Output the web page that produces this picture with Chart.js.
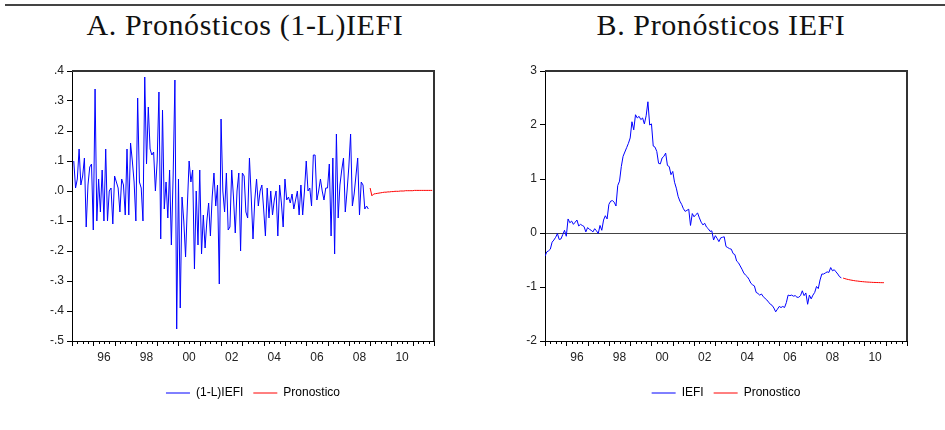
<!DOCTYPE html>
<html lang="es">
<head>
  <meta charset="UTF-8" />
  <title>Pronósticos IEFI</title>
  <script src="https://cdn.jsdelivr.net/npm/chart.js"></script>
  <style>
    body { margin: 0; width: 945px; height: 430px; background: #fff; position: relative; overflow: hidden; }
    .raya { position: absolute; left: 5px; right: 0; top: 4px; border-top: 2px solid #444; }
    .titulo { position: absolute; top: 10px; font-family: "Liberation Serif", "Times New Roman", serif; font-size: 30px; line-height: 30px; letter-spacing: 0.6px; color: #111; white-space: nowrap; transform: translateX(-50%); }
    .panel { position: absolute; top: 60px; }
  </style>
</head>
<body>
  <div class="raya"></div>
  <div class="titulo" style="left:245px">A. Pronósticos (1-L)IEFI</div>
  <div class="titulo" style="left:721px">B. Pronósticos IEFI</div>
  <canvas class="panel" id="graficoA" width="472" height="370" style="left:0"></canvas>
  <canvas class="panel" id="graficoB" width="473" height="370" style="left:472px"></canvas>
  <script>
    // meses contados desde enero de 1995 (mes 0)
    const anioBase = 1995;
    const aniosEtiqueta = [1996, 1998, 2000, 2002, 2004, 2006, 2008, 2010];

    // (1-L)IEFI, desde feb-1995 (mes 1)
    const mesInicioDif = 1;
    const difIEFI = [
            0.10, 0.01, 0.04, 0.14, 0.02, 0.05, 0.11, -0.12, 0.02, 0.08, 0.09,
      -0.13, 0.34, -0.10, 0.04, -0.07, 0.07, -0.10, 0.14, -0.10, 0.00, 0.01, -0.11,
      0.05, 0.03, 0.01, -0.07, 0.04, 0.02, -0.08, 0.14, -0.08, 0.16, 0.10, 0.03,
      -0.10, 0.31, 0.03, 0.01, -0.10, 0.38, 0.09, 0.28, 0.14, 0.12, 0.13, 0.00,
      0.10, 0.33, -0.16, 0.27, -0.06, 0.03, -0.09, 0.07, -0.18, 0.05, 0.37, -0.46,
      0.04, -0.39, -0.02, -0.10, -0.22, -0.05, 0.10, 0.03, 0.07, -0.26, 0.00, -0.18,
      0.07, -0.21, -0.08, -0.19, -0.10, -0.04, -0.15, -0.02, 0.06, -0.05, 0.02, -0.31,
      0.24, 0.00, -0.07, 0.06, -0.13, -0.12, 0.07, -0.02, -0.14, 0.00, 0.06, -0.20,
      0.06, 0.05, -0.07, -0.09, 0.11, -0.02, -0.16, -0.03, 0.04, -0.05, 0.00, 0.02,
      -0.06, -0.15, 0.01, -0.09, 0.00, -0.08, -0.03, 0.00, -0.15, 0.02, -0.04, -0.12,
      0.04, -0.03, -0.02, -0.04, -0.01, -0.06, -0.03, 0.00, -0.08, 0.02, -0.08, 0.00,
      0.10, 0.00, 0.01, -0.05, 0.12, 0.12, -0.03, 0.00, 0.04, 0.00, -0.03, 0.01,
      0.01, 0.09, -0.15, 0.11, -0.21, 0.19, -0.09, 0.02, 0.07, 0.11, -0.07, 0.00,
      0.08, 0.19, -0.05, -0.01, 0.05, 0.11, -0.08, 0.03, 0.02, -0.06, -0.05, -0.06
    ];

    // IEFI, desde ene-1995 (mes 0)
    const mesInicioIEFI = 0;
    const iefi = [
      -0.43, -0.35, -0.33, -0.30, -0.17, -0.13, -0.08, -0.01, -0.12, -0.11, -0.03, 0.05,
      -0.06, 0.26, 0.19, 0.22, 0.16, 0.20, 0.24, 0.13, 0.16, 0.14, 0.12, 0.02,
      0.10, 0.07, 0.05, 0.02, 0.08, 0.04, -0.01, 0.14, 0.05, 0.24, 0.32, 0.26,
      0.53, 0.59, 0.60, 0.57, 0.50, 0.88, 0.96, 1.23, 1.42, 1.50, 1.58, 1.66,
      1.76, 2.06, 1.91, 2.19, 2.13, 2.16, 2.10, 2.13, 2.02, 2.17, 2.43, 2.00,
      2.02, 1.61, 1.59, 1.51, 1.29, 1.28, 1.39, 1.42, 1.48, 1.25, 1.23, 1.08,
      1.14, 0.94, 0.83, 0.68, 0.59, 0.53, 0.45, 0.40, 0.42, 0.44, 0.14, 0.36,
      0.30, 0.34, 0.37, 0.28, 0.20, 0.15, 0.18, 0.11, 0.08, 0.03, 0.04, -0.13,
      -0.05, -0.10, -0.16, -0.09, -0.08, -0.07, -0.25, -0.27, -0.29, -0.30, -0.38, -0.40,
      -0.52, -0.55, -0.61, -0.67, -0.74, -0.78, -0.81, -0.86, -0.93, -0.96, -0.98, -1.10,
      -1.12, -1.15, -1.13, -1.18, -1.21, -1.24, -1.28, -1.32, -1.34, -1.39, -1.46, -1.41,
      -1.36, -1.38, -1.36, -1.38, -1.29, -1.15, -1.16, -1.15, -1.17, -1.16, -1.19, -1.19,
      -1.16, -1.07, -1.16, -1.11, -1.32, -1.15, -1.22, -1.15, -1.10, -0.99, -1.03, -0.87,
      -0.76, -0.76, -0.74, -0.72, -0.73, -0.64, -0.70, -0.68, -0.72, -0.76, -0.81, -0.83
    ];

    // pronosticos, desde ene-2009 (mes 168)
    const mesInicioPron = 168;
    const pronDif = [
      0.010, -0.016, -0.010, -0.009, -0.008, -0.007, -0.006, -0.005, -0.004, -0.004, -0.003, -0.003,
      -0.002, -0.002, -0.001, -0.001, -0.001, 0.000, 0.000, 0.000, 0.001, 0.001, 0.001, 0.001,
      0.001, 0.002, 0.002, 0.002, 0.002, 0.002, 0.002, 0.002, 0.002, 0.002, 0.002, 0.002
    ];
    const pronIEFI = [
      -0.835, -0.845, -0.855, -0.862, -0.869, -0.875, -0.881, -0.886, -0.890, -0.894, -0.898, -0.901,
      -0.904, -0.907, -0.909, -0.911, -0.913, -0.915, -0.916, -0.917, -0.918, -0.919, -0.920, -0.920
    ];

    Chart.defaults.font.family = '"Liberation Sans", Arial, sans-serif';
    Chart.defaults.color = '#222';

    function aPuntos(valores, mesInicial) {
      return valores.map((v, k) => ({ x: anioBase + (mesInicial + k) / 12, y: v }));
    }

    // marco superior/derecho y marcas trimestrales del eje x
    const marco = {
      id: 'marco',
      afterDraw(chart) {
        const { ctx, chartArea: a, scales: { x } } = chart;
        ctx.save();
        ctx.strokeStyle = '#000';
        ctx.lineWidth = 1;
        ctx.beginPath();
        const n = Math.round((x.max - x.min) * 4);
        for (let q = 0; q <= n; q++) {
          const px = Math.round(x.getPixelForValue(x.min + q / 4)) + 0.5;
          const largo = q % 4 === 0 ? 5 : 3;
          ctx.moveTo(px, a.bottom);
          ctx.lineTo(px, a.bottom + largo);
        }
        ctx.stroke();
        ctx.strokeStyle = '#333';
        ctx.lineWidth = 2;
        ctx.beginPath();
        ctx.moveTo(a.left, a.top);
        ctx.lineTo(a.right, a.top);
        ctx.lineTo(a.right, a.bottom);
        ctx.stroke();
        ctx.restore();
      }
    };

    function opciones(yMin, yMax, paso, formato, anchoY, lineaCero) {
      return {
        responsive: false,
        animation: false,
        layout: { padding: { left: 0, right: 38, top: 11, bottom: 21 } },
        elements: { point: { radius: 0 }, line: { borderWidth: 1, tension: 0 } },
        scales: {
          x: {
            type: 'linear', min: anioBase, max: 2012,
            grid: { display: false, drawTicks: false },
            border: { display: true, color: '#000', width: 1 },
            afterBuildTicks: s => { s.ticks = aniosEtiqueta.map(a => ({ value: a + 0.5 })); },
            afterFit: s => { s.height = 36; },
            ticks: {
              autoSkip: false, maxRotation: 0, padding: 9,
              font: { size: 12 },
              callback: v => String(Math.floor(v)).slice(2)
            }
          },
          y: {
            min: yMin, max: yMax,
            afterFit: s => { s.width = anchoY; },
            border: { display: true, color: '#000', width: 1 },
            grid: {
              drawOnChartArea: lineaCero, drawTicks: true, tickLength: 5,
              color: c => (c.tick && c.tick.value === 0 && lineaCero) ? '#444' : 'rgba(0,0,0,0)',
              tickColor: '#000'
            },
            ticks: { stepSize: paso, padding: 3, font: { size: 12 }, callback: formato }
          }
        },
        plugins: {
          tooltip: { enabled: false },
          legend: {
            position: 'bottom', fullSize: false,
            labels: {
              usePointStyle: true, pointStyle: 'line', pointStyleWidth: 24,
              padding: 10, color: '#000', font: { size: 12 }
            }
          }
        }
      };
    }

    const fmtDecimal = v => {
      const r = Math.round(v * 10) / 10;
      return r.toFixed(1).replace(/^(-?)0\./, '$1.');
    };

    new Chart(document.getElementById('graficoA'), {
      type: 'line',
      data: {
        datasets: [
          { label: '(1-L)IEFI', data: aPuntos(difIEFI, mesInicioDif), borderColor: '#0000ff', fill: false },
          { label: 'Pronostico', data: aPuntos(pronDif, mesInicioPron), borderColor: '#ff0000', fill: false }
        ]
      },
      options: opciones(-0.5, 0.4, 0.1, fmtDecimal, 72, false),
      plugins: [marco]
    });

    new Chart(document.getElementById('graficoB'), {
      type: 'line',
      data: {
        datasets: [
          { label: 'IEFI', data: aPuntos(iefi, mesInicioIEFI), borderColor: '#0000ff', fill: false },
          { label: 'Pronostico', data: aPuntos(pronIEFI, mesInicioPron), borderColor: '#ff0000', fill: false }
        ]
      },
      options: opciones(-2, 3, 1, v => String(Math.round(v)), 73, true),
      plugins: [marco]
    });
  </script>
</body>
</html>
